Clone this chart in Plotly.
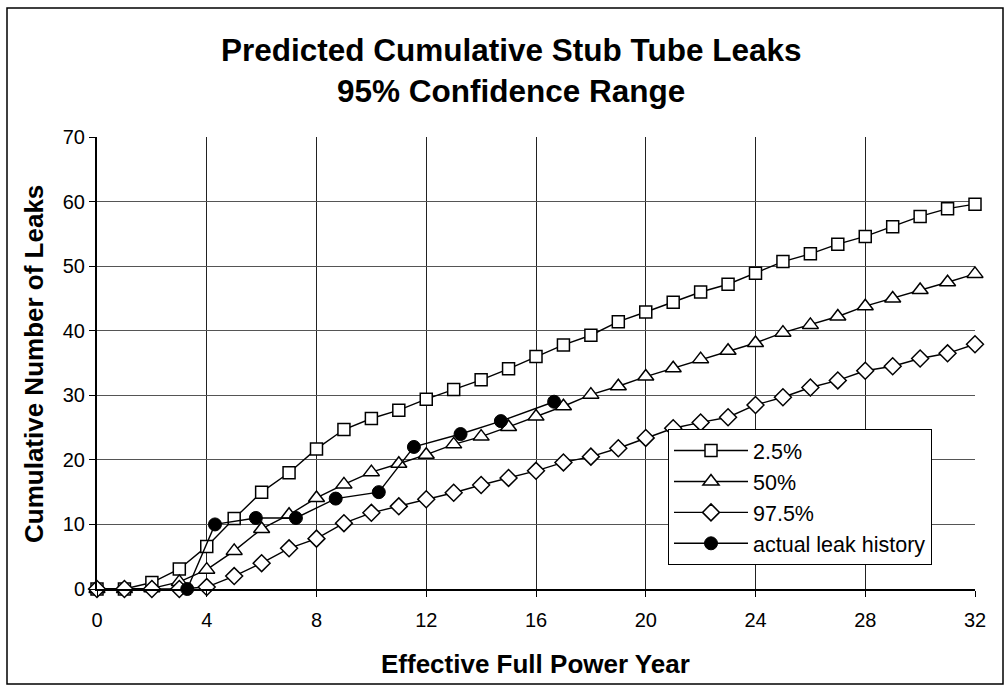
import plotly.graph_objects as go

# ---------------- data ----------------
years = list(range(0, 33))
p025 = [0, 0, 1.0, 3.1, 6.6, 10.9, 15.0, 18.0, 21.7, 24.7, 26.4, 27.7, 29.4, 30.9, 32.4, 34.1,
        36.0, 37.8, 39.3, 41.4, 42.9, 44.4, 46.0, 47.2, 48.9, 50.7, 51.9, 53.4, 54.6, 56.1,
        57.7, 58.9, 59.6]
p50 = [0, 0, 0.1, 1.1, 3.0, 5.9, 9.3, 11.5, 14.1, 16.2, 18.1, 19.4, 20.8, 22.4, 23.6, 25.1,
       26.7, 28.3, 30.1, 31.4, 32.9, 34.2, 35.6, 36.9, 38.1, 39.7, 40.9, 42.2, 43.8, 45.0,
       46.3, 47.5, 48.8]
p975 = [0, 0, 0, 0, 0.3, 2.0, 4.0, 6.3, 7.8, 10.2, 11.8, 12.8, 13.9, 14.9, 16.1, 17.2,
        18.3, 19.6, 20.5, 21.8, 23.4, 24.9, 25.8, 26.6, 28.5, 29.7, 31.2, 32.3, 33.8, 34.5,
        35.7, 36.5, 37.9]
actual_x = [3.29, 4.3, 5.79, 7.25, 8.70, 10.27, 11.55, 13.25, 14.72, 16.66]
actual_y = [0, 10, 11, 11, 14, 15, 22, 24, 26, 29]
series_names = ["2.5%", "50%", "97.5%", "actual leak history"]
x_ticks = list(range(0, 33, 4))
y_ticks = list(range(0, 71, 10))
title_lines = ["Predicted Cumulative Stub Tube Leaks", "95% Confidence Range"]
x_title = "Effective Full Power Year"
y_title = "Cumulative Number of Leaks"

# ---------------- layout geometry ----------------
W, H = 1008, 687
L, R, T, B = 97, 33, 137, 98
PW, PH = W - L - R, H - T - B
FONT = "Liberation Sans, Arial, sans-serif"


def px_x(p):
    return (p - L) / PW


def px_y(p):
    return (H - B - p) / PH


line_style = dict(color="black", width=1.4)

fig = go.Figure()
fig.add_trace(go.Scatter(x=years, y=p025, name=series_names[0], mode="lines+markers",
                         line=line_style, cliponaxis=False, legendgroup="a",
                         marker=dict(symbol="square", size=12, color="white",
                                     line=dict(color="black", width=1.5))))
fig.add_trace(go.Scatter(x=years, y=p50, name=series_names[1], mode="lines+markers",
                         line=line_style, cliponaxis=False, legendgroup="b",
                         marker=dict(symbol="triangle-up", size=14, color="white",
                                     line=dict(color="black", width=1.5))))
fig.add_trace(go.Scatter(x=years, y=p975, name=series_names[2], mode="lines+markers",
                         line=line_style, cliponaxis=False, legendgroup="c",
                         marker=dict(symbol="diamond", size=13, color="white",
                                     line=dict(color="black", width=1.5))))
fig.add_trace(go.Scatter(x=actual_x, y=actual_y, name=series_names[3], mode="lines+markers",
                         line=line_style, cliponaxis=False, legendgroup="d",
                         marker=dict(symbol="circle", size=13, color="black",
                                     line=dict(color="black", width=1))))

annotations = [
    dict(text="<b>%s</b>" % title_lines[0], x=px_x(511), y=px_y(50), xref="paper", yref="paper",
         showarrow=False, xanchor="center", yanchor="middle", font=dict(family=FONT, size=31.5, color="black")),
    dict(text="<b>%s</b>" % title_lines[1], x=px_x(511), y=px_y(91), xref="paper", yref="paper",
         showarrow=False, xanchor="center", yanchor="middle", font=dict(family=FONT, size=31.5, color="black")),
    dict(text="<b>%s</b>" % x_title, x=px_x(535), y=px_y(664), xref="paper", yref="paper",
         showarrow=False, xanchor="center", yanchor="middle", font=dict(family=FONT, size=26, color="black")),
    dict(text="<b>%s</b>" % y_title, x=px_x(34), y=px_y(364), xref="paper", yref="paper",
         showarrow=False, xanchor="center", yanchor="middle", textangle=-90,
         font=dict(family=FONT, size=26, color="black")),
]

shapes = [
    dict(type="rect", xref="paper", yref="paper", x0=px_x(7), x1=px_x(1003), y0=px_y(684), y1=px_y(8),
         line=dict(color="black", width=1.5), fillcolor="rgba(0,0,0,0)", layer="below"),
]

fig.update_layout(
    width=W, height=H, margin=dict(l=L, r=R, t=T, b=B, pad=0),
    paper_bgcolor="white", plot_bgcolor="white",
    font=dict(family=FONT, size=20, color="black"),
    showlegend=True,
    legend=dict(x=px_x(668), y=px_y(429), xanchor="left", yanchor="top",
                bgcolor="white", bordercolor="black", borderwidth=1,
                font=dict(family=FONT, size=21.5, color="black"),
                itemwidth=74, tracegroupgap=8, traceorder="normal"),
    annotations=annotations, shapes=shapes,
    xaxis=dict(range=[0, 32], tickvals=x_ticks, ticktext=[str(v) for v in x_ticks],
               showgrid=True, gridcolor="#222", gridwidth=1, zeroline=False,
               showline=True, linecolor="black", linewidth=1.5,
               ticks="outside", ticklen=6, tickcolor="black", tickwidth=1,
               ticklabelstandoff=6,
               tickfont=dict(family=FONT, size=20, color="black")),
    yaxis=dict(range=[0, 70], tickvals=y_ticks, ticktext=[str(v) for v in y_ticks],
               showgrid=True, gridcolor="#555", gridwidth=1, zeroline=False,
               showline=True, linecolor="black", linewidth=2,
               ticks="outside", ticklen=6, tickcolor="black", tickwidth=1,
               tickfont=dict(family=FONT, size=20, color="black")),
)

fig.write_html("out.html", config={"displayModeBar": False},
               post_script="document.body.style.margin='0';")
